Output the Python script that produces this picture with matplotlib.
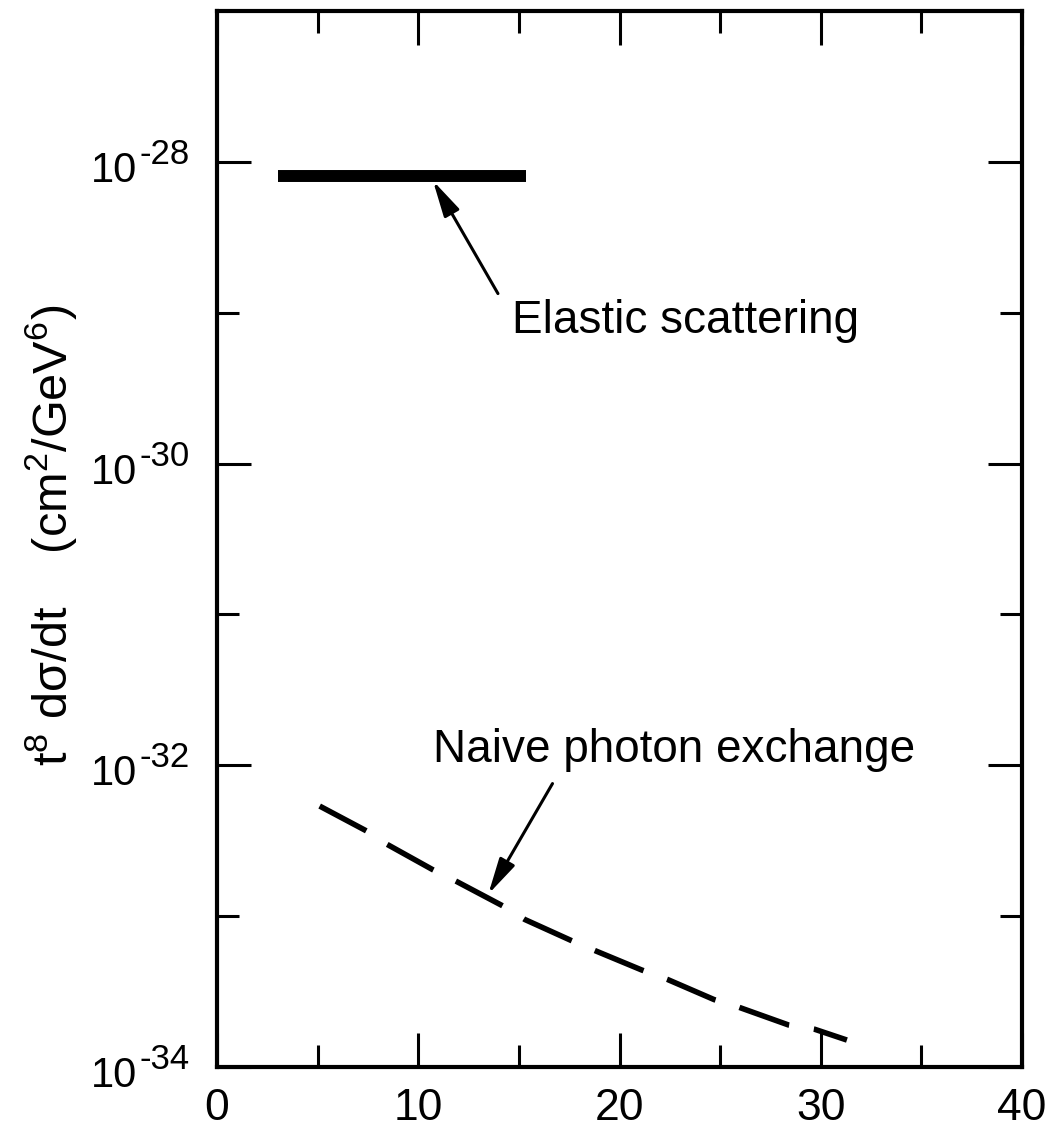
import matplotlib
matplotlib.use("Agg")
import matplotlib.pyplot as plt
from matplotlib.ticker import FixedLocator, FixedFormatter, NullFormatter

plt.rcParams['font.family'] = ['Liberation Sans', 'DejaVu Sans']
plt.rcParams['mathtext.fontset'] = 'custom'
plt.rcParams['mathtext.rm'] = 'Liberation Sans'
plt.rcParams['mathtext.it'] = 'Liberation Sans:italic'
plt.rcParams['mathtext.bf'] = 'Liberation Sans:bold'

# ---- data ----
elastic_x = [3.03, 15.35]
elastic_y = [8.1e-29, 8.1e-29]

naive_x = [5.1, 7.5, 8.4, 10.7, 11.9, 14.2, 15.3, 17.6, 18.8, 21.1, 22.4,
           24.7, 25.9, 28.4, 29.7, 31.3]
naive_y = [5.37e-33, 3.63e-33, 3.02e-33, 2.04e-33, 1.70e-33, 1.17e-33,
           9.5e-34, 6.9e-34, 5.9e-34, 4.4e-34, 3.8e-34, 2.8e-34, 2.5e-34,
           1.9e-34, 1.78e-34, 1.51e-34]

x_major = [0, 10, 20, 30, 40]
x_minor = [5, 15, 25, 35]
x_labels = ['0', '10', '20', '30', '40']
y_major = [1e-34, 1e-32, 1e-30, 1e-28]
y_minor = [1e-33, 1e-31, 1e-29]
y_label_base = '10'
y_label_exps = ['-34', '-32', '-30', '-28']

elastic_label = 'Elastic scattering'
elastic_text_pos = (14.66, 7.3e-30)
elastic_arrow_tail = (13.96, 1.34e-29)
elastic_arrow_tip = (10.73, 7.5e-29)

naive_label = 'Naive photon exchange'
naive_text_pos = (10.75, 1.05e-32)
naive_arrow_tail = (16.67, 7.57e-33)
naive_arrow_tip = (13.48, 1.40e-33)

ylabel = r'$\mathregular{t^{8}}$ dσ/dt    (cm$\mathregular{^{2}}$/GeV$\mathregular{^{6}}$)'

# ---- figure ----
fig = plt.figure(figsize=(10.51, 11.27), dpi=100)
ax = fig.add_axes([0.2065, 0.0532, 0.9724 - 0.2065, 0.9902 - 0.0532])
ax.set_yscale('log')
ax.set_xlim(0, 40)
ax.set_ylim(1e-34, 1e-27)

ax.plot(elastic_x, elastic_y, color='black', lw=8.6, solid_capstyle='butt')
ax.plot(naive_x, naive_y, color='black', lw=4.0, dashes=(9.5, 4.5),
        dash_capstyle='butt')

arrow_style = '-|>,head_length=1.1,head_width=0.26'
ax.annotate('', xy=elastic_arrow_tip, xytext=elastic_arrow_tail,
            arrowprops=dict(arrowstyle=arrow_style, mutation_scale=20, lw=2.2,
                            color='black', shrinkA=0, shrinkB=0))
ax.annotate('', xy=naive_arrow_tip, xytext=naive_arrow_tail,
            arrowprops=dict(arrowstyle=arrow_style, mutation_scale=20, lw=2.2,
                            color='black', shrinkA=0, shrinkB=0))

ax.text(*elastic_text_pos, elastic_label, fontsize=33, ha='left', va='baseline')
ax.text(*naive_text_pos, naive_label, fontsize=33, ha='left', va='baseline')

# ticks
ax.xaxis.set_major_locator(FixedLocator(x_major))
ax.xaxis.set_major_formatter(FixedFormatter(x_labels))
ax.xaxis.set_minor_locator(FixedLocator(x_minor))
ax.xaxis.set_minor_formatter(NullFormatter())
ax.yaxis.set_major_locator(FixedLocator(y_major))
ax.yaxis.set_major_formatter(NullFormatter())
ax.yaxis.set_minor_locator(FixedLocator(y_minor))
ax.yaxis.set_minor_formatter(NullFormatter())

ax.tick_params(which='both', direction='in', top=True, right=True, width=2.2, color='black')
ax.tick_params(which='major', length=24.5)
ax.tick_params(which='minor', length=16)
ax.tick_params(axis='x', which='major', labelsize=32, pad=15)

# y tick labels: "10" with a large raised exponent
for v, e in zip(y_major, y_label_exps):
    ax.annotate(y_label_base, xy=(0, v), xycoords=('axes fraction', 'data'),
                xytext=(-80, -20), textcoords='offset pixels',
                ha='right', va='baseline', fontsize=30, annotation_clip=False)
    ax.annotate(e, xy=(0, v), xycoords=('axes fraction', 'data'),
                xytext=(-78, -2), textcoords='offset pixels',
                ha='left', va='baseline', fontsize=25, annotation_clip=False)

for s in ax.spines.values():
    s.set_linewidth(3)

ax.set_ylabel(ylabel, fontsize=35)
ax.yaxis.set_label_coords(-0.172, 0.503)

fig.savefig('out.png', dpi=100)
